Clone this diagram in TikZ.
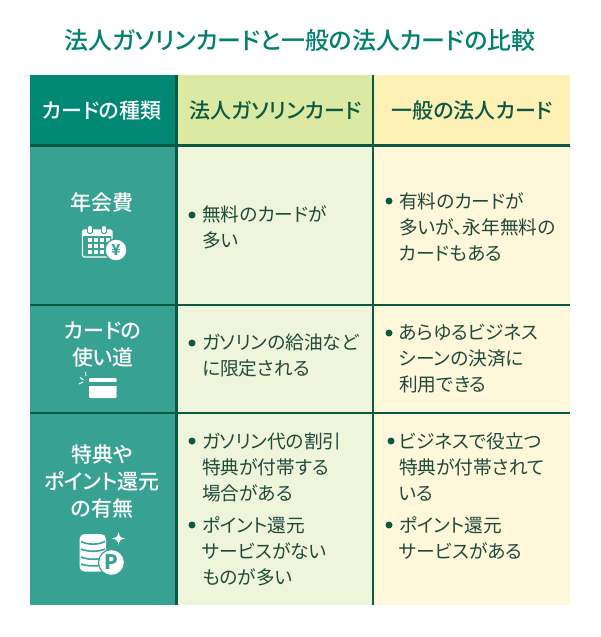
\documentclass[tikz,border=0pt]{standalone}
\usepackage{fontspec}
\setmainfont{Noto Sans CJK JP}[RawFeature={+palt}]
\newfontfamily\jpmed{Noto Sans CJK JP Medium}[RawFeature={+palt}]
\definecolor{titlec}{HTML}{00806E}
\definecolor{headdark}{HTML}{008874}
\definecolor{headteal}{HTML}{37A192}
\definecolor{headgreen}{HTML}{DBE9A3}
\definecolor{headyellow}{HTML}{FCF0B4}
\definecolor{cellgreen}{HTML}{EFF5DA}
\definecolor{cellyellow}{HTML}{FEF7DA}
\definecolor{rulec}{HTML}{0B5943}
\definecolor{textc}{HTML}{1F4A3C}
\tikzset{
  x=1pt,y=-1pt,
  cellbox/.style={anchor=north west,inner sep=0pt,outer sep=0pt,draw=none},
  thickrule/.style={draw=rulec,line width=3pt},
  thinrule/.style={draw=rulec,line width=2pt},
  headtxt/.style={font=\fontsize{21}{24}\selectfont\jpmed,text=rulec,anchor=center,inner sep=0pt},
  rowtxt/.style={font=\fontsize{21}{27}\selectfont\jpmed,text=white,align=center,anchor=center,inner sep=0pt},
  bodytxt/.style={font=\fontsize{18.7}{26}\selectfont,text=textc,align=left,anchor=north west,inner sep=0pt},
  dotmark/.style={circle,fill=rulec,minimum size=7pt,inner sep=0pt},
  iconw/.style={fill=white,draw=none},
}
\begin{document}
\begin{tikzpicture}
\useasboundingbox (0,0) rectangle (600,637);
\fill[white] (0,0) rectangle (600,637);
\node[anchor=center,inner sep=0pt,text=titlec,font=\fontsize{23.9}{26}\selectfont\jpmed] (title) at (300,40) {法人ガソリンカードと一般の法人カードの比較};
% cells
\node[cellbox,fill=headdark,minimum width=146pt,minimum height=70pt] (h0) at (30,75) {};
\node[cellbox,fill=headgreen,minimum width=196.5pt,minimum height=70pt] (h1) at (176,75) {};
\node[cellbox,fill=headyellow,minimum width=197.5pt,minimum height=70pt] (h2) at (372.5,75) {};
\node[cellbox,fill=headteal,minimum width=146pt,minimum height=160pt] (a0) at (30,145) {};
\node[cellbox,fill=cellgreen,minimum width=196.5pt,minimum height=160pt] (a1) at (176,145) {};
\node[cellbox,fill=cellyellow,minimum width=197.5pt,minimum height=160pt] (a2) at (372.5,145) {};
\node[cellbox,fill=headteal,minimum width=146pt,minimum height=108pt] (b0) at (30,305) {};
\node[cellbox,fill=cellgreen,minimum width=196.5pt,minimum height=108pt] (b1) at (176,305) {};
\node[cellbox,fill=cellyellow,minimum width=197.5pt,minimum height=108pt] (b2) at (372.5,305) {};
\node[cellbox,fill=headteal,minimum width=146pt,minimum height=192pt] (c0) at (30,413) {};
\node[cellbox,fill=cellgreen,minimum width=196.5pt,minimum height=192pt] (c1) at (176,413) {};
\node[cellbox,fill=cellyellow,minimum width=197.5pt,minimum height=192pt] (c2) at (372.5,413) {};
% rules
\draw[thickrule] (h0.south west) -- (h2.south east);
\draw[thinrule] (a0.south west) -- (a2.south east);
\draw[thinrule] (b0.south west) -- (b2.south east);
\draw[thickrule] (h0.north east) -- (c0.south east);
\draw[thinrule] (h1.north east) -- (c1.south east);
% headers
\node[headtxt,text=white] (t0) at (102,110.5) {カードの種類};
\node[headtxt] (t1) at (276,110.5) {法人ガソリンカード};
\node[headtxt] (t2) at (472,110.5) {一般の法人カード};
% row heads
\node[rowtxt] (r1) at (102,202.5) {年会費};
\node[rowtxt] (r2) at (103,345) {カードの\\使い道};
\node[rowtxt] (r3) at (102,481) {特典や\\ポイント還元\\の有無};
% calendar icon
\begin{scope}
\draw[white,line width=1.3pt,rounded corners=1.5pt] (82.5,230) rectangle (112,257);
\fill[iconw] (83,230) rectangle (112,236);
\foreach \cx in {90,104}{\fill[white,draw=headteal,line width=.8pt,rounded corners=1.5pt] (\cx-2.5,225.5) rectangle (\cx+2.5,233.5);}
\foreach \ry in {238,244,250}{\foreach \cy in {87.5,93.5,99.5,105.5}{\fill[white] (\cy,\ry) rectangle (\cy+4.3,\ry+4.3);}}
\fill[white,draw=headteal,line width=1.2pt] (116,250) circle (11);
\node[inner sep=0pt,text=headteal,font=\fontsize{15}{15}\selectfont\bfseries] (yen) at (116,250) {¥};
\end{scope}
% card icon
\fill[white,rounded corners=1.2pt] (89,378) rectangle (116.5,398);
\fill[headteal] (89,382) rectangle (116.5,386);
\draw[white,line width=1pt] (86,376) -- (85.5,372);
\draw[white,line width=1pt] (83.5,380) -- (80,377.5);
\draw[white,line width=1pt] (83,382) -- (79,384);
% coins icon
\fill[white,rounded corners=5pt] (79.5,534) rectangle (106,571.5);
\draw[headteal,line width=1.6pt] (81,541.5) .. controls (88,545) and (98,545) .. (105,541.5);
\draw[headteal,line width=1.6pt] (81,549) .. controls (88,552) and (98,552) .. (105,549);
\draw[headteal,line width=1.6pt] (81,557) .. controls (88,560) and (98,560) .. (105,557);
\draw[headteal,line width=1.6pt] (81,564) .. controls (88,566.5) and (98,566.5) .. (105,564);
\fill[white,draw=headteal,line width=1.2pt] (111.5,562.5) circle (13);
\node[inner sep=0pt,text=headteal,font=\fontsize{20}{20}\selectfont\bfseries] (pmark) at (111.5,562.5) {P};
\fill[white] (118.5,532) .. controls (119,536) and (120,537.5) .. (125,538.5) .. controls (120,539.5) and (119,541) .. (118.5,545) .. controls (118,541) and (117,539.5) .. (112,538.5) .. controls (117,537.5) and (118,536) .. (118.5,532) -- cycle;
% body text
\node[dotmark] (d1) at (192,215) {};
\node[bodytxt] (x1) at (202,205) {無料のカードが\\多い};
\node[dotmark] (d2) at (389,201) {};
\node[bodytxt] (x2) at (399,192) {有料のカードが\\多いが、永年無料の\\カードもある};
\node[dotmark] (d3) at (192,343) {};
\node[bodytxt] (x3) at (202,334) {ガソリンの給油など\\に限定される};
\node[dotmark] (d4) at (389,333) {};
\node[bodytxt] (x4) at (399,324) {あらゆるビジネス\\シーンの決済に\\利用できる};
\node[dotmark] (d5) at (192,441) {};
\node[bodytxt] (x5) at (202,432.5) {ガソリン代の割引\\特典が付帯する\\場合がある};
\node[dotmark] (d6) at (192,525) {};
\node[bodytxt] (x6) at (202,516) {ポイント還元\\サービスがない\\ものが多い};
\node[dotmark] (d7) at (391,441) {};
\node[bodytxt] (x7) at (399,432.5) {ビジネスで役立つ\\特典が付帯されて\\いる};
\node[dotmark] (d8) at (389,525) {};
\node[bodytxt] (x8) at (399,516) {ポイント還元\\サービスがある};
\end{tikzpicture}
\end{document}
